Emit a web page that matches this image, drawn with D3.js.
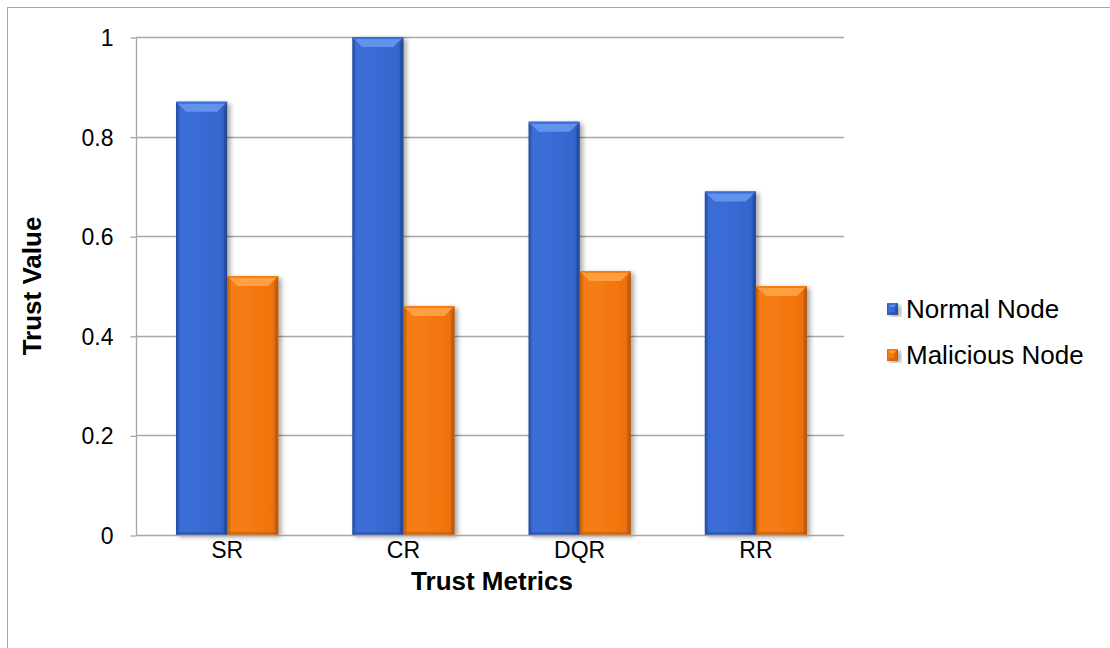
<!DOCTYPE html>
<html>
<head>
<meta charset="utf-8">
<script src="https://cdn.jsdelivr.net/npm/d3@7"></script>
<style>
  html, body { margin: 0; padding: 0; background: #fff; }
  svg text { font-family: "Liberation Sans", Arial, sans-serif; fill: #000; }
</style>
</head>
<body>
<svg id="chart" width="1110" height="648"></svg>
<script>
// Trust values per metric
const categories = ["SR", "CR", "DQR", "RR"];
const seriesNames = ["Normal Node", "Malicious Node"];
const normalNode = [0.87, 1.0, 0.83, 0.69];
const maliciousNode = [0.52, 0.46, 0.53, 0.50];
const yTicks = [0, 0.2, 0.4, 0.6, 0.8, 1];
const yTickLabels = ["0", "0.2", "0.4", "0.6", "0.8", "1"];

const palette = [
  { base: "#3a6dd6", light: "#6a9af0", dark: "#23489a", mid: "#3366cc" },
  { base: "#f67b12", light: "#ffa648", dark: "#b85808", mid: "#f07010" }
];

const FONT = '"Liberation Sans", Arial, sans-serif';
const svg = d3.select("#chart");
const plot = { left: 136, right: 844, top: 37, bottom: 535 };

// chart frame
svg.append("rect")
  .attr("x", 7.5).attr("y", 7.5).attr("width", 1110).attr("height", 660)
  .attr("fill", "none").attr("stroke", "#a6a6a6").attr("stroke-width", 1);

const y = d3.scaleLinear().domain([0, 1]).range([plot.bottom, plot.top]);
const x0 = d3.scaleBand().domain(categories).range([plot.left + 3, plot.right]).paddingInner(0.42).paddingOuter(0.21);
const x1 = d3.scaleBand().domain(seriesNames).range([0, x0.bandwidth()]);

const defs = svg.append("defs");
palette.forEach((p, i) => {
  const g = defs.append("linearGradient").attr("id", "barGrad" + i)
    .attr("x1", "0").attr("x2", "1").attr("y1", "0").attr("y2", "0");
  g.append("stop").attr("offset", "0").attr("stop-color", p.dark);
  g.append("stop").attr("offset", "0.08").attr("stop-color", p.base);
  g.append("stop").attr("offset", "0.4").attr("stop-color", p.base);
  g.append("stop").attr("offset", "0.9").attr("stop-color", p.mid);
  g.append("stop").attr("offset", "1").attr("stop-color", p.dark);
});
const sh = defs.append("filter").attr("id", "shadow")
  .attr("x", "-20%").attr("y", "-5%").attr("width", "150%").attr("height", "115%");
sh.append("feGaussianBlur").attr("in", "SourceAlpha").attr("stdDeviation", 2.5).attr("result", "b");
sh.append("feOffset").attr("in", "b").attr("dx", 3).attr("dy", 2).attr("result", "o");
sh.append("feComponentTransfer").attr("in", "o").attr("result", "s")
  .append("feFuncA").attr("type", "linear").attr("slope", 0.35);
const mg = sh.append("feMerge");
mg.append("feMergeNode").attr("in", "s");
mg.append("feMergeNode").attr("in", "SourceGraphic");

// gridlines
svg.append("g").selectAll("line").data(yTicks.filter(d => d > 0)).join("line")
  .attr("x1", plot.left).attr("x2", plot.right)
  .attr("y1", d => Math.round(y(d)) + 0.5).attr("y2", d => Math.round(y(d)) + 0.5)
  .attr("stroke", "#a6a6a6").attr("stroke-width", 1.3);

// y axis
const yAxis = d3.axisLeft(y).tickValues(yTicks).tickFormat((d, i) => yTickLabels[i]).tickSize(6).tickPadding(17);
const ya = svg.append("g").attr("transform", `translate(${plot.left + 0.5},0.5)`).call(yAxis);
ya.selectAll("path, line").attr("stroke", "#a6a6a6").attr("stroke-width", 1.3);
ya.select(".domain").attr("d", `M0,${plot.top}V${plot.bottom}`);
ya.selectAll("text").attr("font-size", 23).attr("dy", "0.35em")
  .style("font-family", FONT).attr("fill", "#000");

// bevelled bar
function bevelBar(g, bx, by, bw, bh, p, i, bevel) {
  const grp = g.append("g").attr("filter", "url(#shadow)");
  grp.append("rect").attr("x", bx).attr("y", by).attr("width", bw).attr("height", bh)
    .attr("fill", `url(#barGrad${i})`);
  const b = Math.min(bevel, bh / 2);
  // top bevel
  grp.append("polygon")
    .attr("points", [[bx, by], [bx + bw, by], [bx + bw - b, by + b], [bx + b, by + b]].join(" "))
    .attr("fill", p.light).attr("opacity", 0.85);
  grp.append("line").attr("x1", bx + 1).attr("x2", bx + bw - 1).attr("y1", by + 1).attr("y2", by + 1)
    .attr("stroke", p.base).attr("stroke-width", 2);
  // right edge
  grp.append("polygon")
    .attr("points", [[bx + bw, by], [bx + bw, by + bh], [bx + bw - 3, by + bh - 3], [bx + bw - 3, by + b]].join(" "))
    .attr("fill", p.dark).attr("opacity", 0.6);
  // bottom edge
  grp.append("polygon")
    .attr("points", [[bx, by + bh], [bx + bw, by + bh], [bx + bw - 3, by + bh - 3], [bx + 3, by + bh - 3]].join(" "))
    .attr("fill", p.dark).attr("opacity", 0.5);
}

const seriesData = [normalNode, maliciousNode];
const bars = svg.append("g");
categories.forEach((c, ci) => {
  seriesData.forEach((vals, si) => {
    const bx = x0(c) + x1(seriesNames[si]);
    const by = y(vals[ci]);
    bevelBar(bars, bx, by, x1.bandwidth(), plot.bottom - by, palette[si], si, 10);
  });
});

// x axis
const xa = svg.append("g").attr("transform", `translate(0,${plot.bottom + 0.5})`)
  .call(d3.axisBottom(x0).tickSize(0).tickPadding(6));
xa.select(".domain").attr("d", `M${plot.left},0H${plot.right}`).attr("stroke", "#a6a6a6").attr("stroke-width", 1.3);
xa.selectAll("text").attr("font-size", 23)
  .style("font-family", FONT).attr("fill", "#000");

// axis titles
svg.append("text").attr("x", 492).attr("y", 590).attr("text-anchor", "middle")
  .attr("font-size", 26).attr("font-weight", "bold").text("Trust Metrics");
svg.append("text").attr("transform", "translate(41,286) rotate(-90)").attr("text-anchor", "middle")
  .attr("font-size", 26).attr("font-weight", "bold").text("Trust Value");

// legend
const legend = svg.append("g");
seriesNames.forEach((n, i) => {
  const ly = 303 + i * 46;
  bevelBar(legend, 887, ly, 11, 12, palette[i], i, 4);
  legend.append("text").attr("x", 906).attr("y", ly + 6).attr("dy", "0.35em")
    .attr("font-size", 26).text(n);
});
</script>
</body>
</html>
